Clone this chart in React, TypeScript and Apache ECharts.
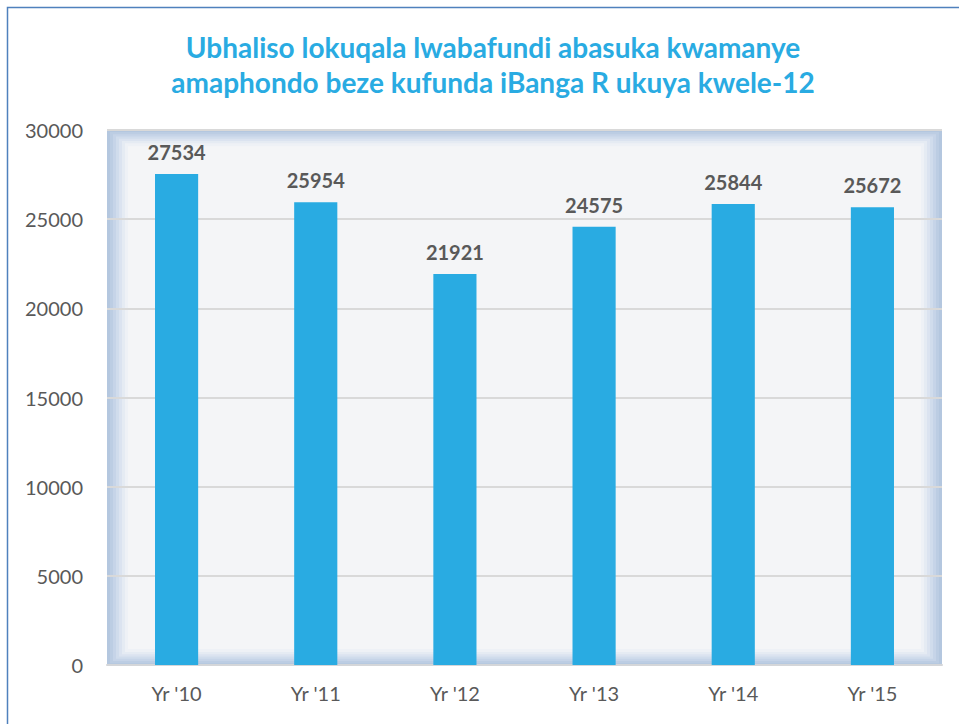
import React, { useEffect, useRef } from "react";
import * as echarts from "echarts";

const titleLines = [
  "Ubhaliso lokuqala lwabafundi abasuka kwamanye",
  "amaphondo beze kufunda iBanga R ukuya kwele-12",
];
const categories = ["Yr '10", "Yr '11", "Yr '12", "Yr '13", "Yr '14", "Yr '15"];
const values = [27534, 25954, 21921, 24575, 25844, 25672];
const yTicks = [0, 5000, 10000, 15000, 20000, 25000, 30000];

const W = 959;
const H = 724;
const GL = 107;
const GR = 942;
const GT = 130;
const GB = 665;

const frameColors = ["#b4c7df", "#bccde3", "#c6d4e8", "#d0dcec", "#dbe3f0", "#e5ebf3", "#eef1f6"];

export default function App() {
  const ref = useRef<HTMLDivElement>(null);
  useEffect(() => {
    if (!ref.current) return;
    const chart = echarts.init(ref.current, undefined, { renderer: "svg" });
    const bw = 3;
    const frame: any[] = [
      {
        type: "rect",
        z: -3,
        shape: { x: GL, y: GT, width: GR - GL, height: GB - GT },
        style: { fill: "#f4f5f7" },
        silent: true,
      },
    ];
    frameColors.forEach((c, i) => {
      const inset = i * bw + bw / 2;
      frame.push({
        type: "rect",
        z: -2,
        shape: {
          x: GL + inset,
          y: GT + inset * 0.75,
          width: GR - GL - 2 * inset,
          height: GB - GT - inset * 1.5,
        },
        style: { fill: null, stroke: c, lineWidth: bw },
        silent: true,
      });
    });
    frame.push({
      type: "line",
      z: -1,
      shape: { x1: GL, y1: GT, x2: GR, y2: GT },
      style: { stroke: "#d6d9de", lineWidth: 1.5 },
      silent: true,
    });
    frame.push({
      type: "rect",
      z: -1,
      shape: { x: 7.5, y: 7.5, width: W + 20, height: H + 20 },
      style: { fill: null, stroke: "#4f81bd", lineWidth: 1.5 },
      silent: true,
    });

    chart.setOption({
      animation: false,
      backgroundColor: "#ffffff",
      title: {
        text: titleLines.join("\n"),
        left: 488,
        top: 24,
        textAlign: "center",
        textStyle: {
          color: "#29abe2",
          fontFamily: "Lato",
          fontWeight: "bold",
          fontSize: 28,
          lineHeight: 35,
        },
      },
      graphic: { elements: frame },
      grid: { left: GL, right: W - GR, top: GT, bottom: H - GB, containLabel: false },
      xAxis: {
        type: "category",
        data: categories,
        axisLine: { show: true, lineStyle: { color: "#d4d6d9", width: 2 } },
        axisTick: { show: false },
        axisLabel: {
          color: "#595959",
          fontFamily: "Lato",
          fontSize: 20,
          margin: 18,
        },
      },
      yAxis: {
        type: "value",
        min: yTicks[0],
        max: yTicks[yTicks.length - 1],
        interval: yTicks[1] - yTicks[0],
        axisLine: { show: false },
        axisTick: { show: false },
        splitLine: { lineStyle: { color: "#d9d9d9", width: 2 } },
        axisLabel: {
          color: "#595959",
          fontFamily: "Lato",
          fontSize: 20,
          margin: 24,
          formatter: (v: number) => String(v),
        },
      },
      series: [
        {
          type: "bar",
          data: values,
          barWidth: "31%",
          itemStyle: { color: "#29abe2" },
          label: {
            show: true,
            position: "top",
            distance: 12,
            color: "#595959",
            fontFamily: "Lato",
            fontWeight: "bold",
            fontSize: 20,
          },
        },
      ],
    });
    return () => chart.dispose();
  }, []);
  return (
    <div
      ref={ref}
      style={{ position: "fixed", left: 0, top: 0, width: W, height: H }}
    />
  );
}
